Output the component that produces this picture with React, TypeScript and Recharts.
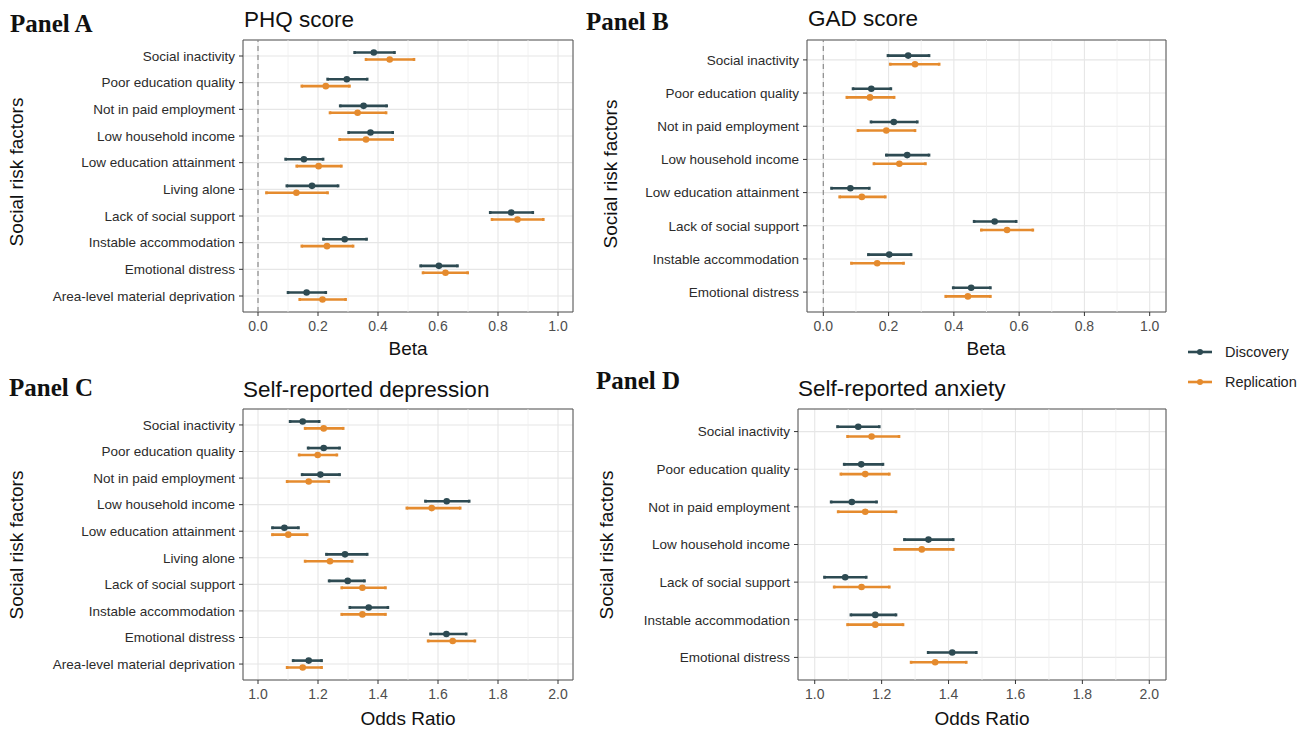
import React from 'react';
import {
  ScatterChart,
  Scatter,
  XAxis,
  YAxis,
  CartesianGrid,
  ErrorBar,
  ReferenceLine,
  ReferenceArea,
} from 'recharts';

const DISCOVERY_COLOR = '#2d4a52';
const REPLICATION_COLOR = '#e58b2e';
const FONT = '"Liberation Sans", Arial, sans-serif';

// each row: [estimate, lower CI, upper CI]
const phqFactors = [
  'Social inactivity',
  'Poor education quality',
  'Not in paid employment',
  'Low household income',
  'Low education attainment',
  'Living alone',
  'Lack of social support',
  'Instable accommodation',
  'Emotional distress',
  'Area-level material deprivation',
];
const phqDiscovery = [
  [0.386, 0.322, 0.455],
  [0.296, 0.232, 0.364],
  [0.352, 0.274, 0.429],
  [0.375, 0.302, 0.449],
  [0.153, 0.092, 0.217],
  [0.18, 0.096, 0.267],
  [0.844, 0.774, 0.916],
  [0.289, 0.218, 0.362],
  [0.603, 0.542, 0.665],
  [0.162, 0.1, 0.226],
];
const phqReplication = [
  [0.439, 0.36, 0.52],
  [0.226, 0.146, 0.305],
  [0.332, 0.24, 0.427],
  [0.36, 0.272, 0.449],
  [0.202, 0.129, 0.278],
  [0.128, 0.028, 0.232],
  [0.865, 0.78, 0.951],
  [0.23, 0.146, 0.317],
  [0.625, 0.55, 0.699],
  [0.215, 0.139, 0.292],
];

const gadFactors = [
  'Social inactivity',
  'Poor education quality',
  'Not in paid employment',
  'Low household income',
  'Low education attainment',
  'Lack of social support',
  'Instable accommodation',
  'Emotional distress',
];
const gadDiscovery = [
  [0.26, 0.198, 0.324],
  [0.147, 0.091, 0.207],
  [0.216, 0.146, 0.288],
  [0.257, 0.193, 0.324],
  [0.083, 0.025, 0.141],
  [0.525, 0.462, 0.591],
  [0.202, 0.138, 0.269],
  [0.453, 0.398, 0.512],
];
const gadReplication = [
  [0.281, 0.205, 0.355],
  [0.143, 0.072, 0.217],
  [0.193, 0.106, 0.281],
  [0.233, 0.155, 0.313],
  [0.118, 0.05, 0.19],
  [0.563, 0.484, 0.642],
  [0.165, 0.086, 0.246],
  [0.443, 0.375, 0.512],
];

const depFactors = phqFactors;
const depDiscovery = [
  [1.149, 1.107, 1.204],
  [1.219, 1.167, 1.272],
  [1.208, 1.147, 1.272],
  [1.629, 1.558, 1.704],
  [1.088, 1.048, 1.135],
  [1.29, 1.228, 1.364],
  [1.299, 1.237, 1.355],
  [1.369, 1.306, 1.433],
  [1.628, 1.575, 1.694],
  [1.169, 1.117, 1.212],
];
const depReplication = [
  [1.219, 1.157, 1.284],
  [1.199, 1.137, 1.263],
  [1.169, 1.097, 1.236],
  [1.579, 1.496, 1.674],
  [1.101, 1.048, 1.164],
  [1.24, 1.157, 1.314],
  [1.348, 1.279, 1.425],
  [1.348, 1.279, 1.425],
  [1.649, 1.567, 1.723],
  [1.149, 1.097, 1.212],
];

const anxFactors = [
  'Social inactivity',
  'Poor education quality',
  'Not in paid employment',
  'Low household income',
  'Lack of social support',
  'Instable accommodation',
  'Emotional distress',
];
const anxDiscovery = [
  [1.13, 1.068, 1.193],
  [1.139, 1.088, 1.204],
  [1.111, 1.049, 1.185],
  [1.34, 1.268, 1.414],
  [1.091, 1.029, 1.154],
  [1.181, 1.108, 1.243],
  [1.411, 1.339, 1.483],
];
const anxReplication = [
  [1.17, 1.098, 1.252],
  [1.151, 1.078, 1.223],
  [1.151, 1.07, 1.243],
  [1.32, 1.239, 1.414],
  [1.14, 1.058, 1.223],
  [1.181, 1.098, 1.264],
  [1.36, 1.288, 1.453],
];

const betaTicks = [0, 0.2, 0.4, 0.6, 0.8, 1.0];
const betaMinor = [0.1, 0.3, 0.5, 0.7, 0.9];
const orTicks = [1.0, 1.2, 1.4, 1.6, 1.8, 2.0];
const orMinor = [1.1, 1.3, 1.5, 1.7, 1.9];

const DODGE = 0.13;

function toRows(values: number[][], shift: number) {
  return values.map(([est, lo, hi], i) => ({
    x: est,
    y: i + shift,
    err: [est - lo, hi - est],
  }));
}

const dot = (color: string) => (props: any) =>
  <circle cx={props.cx} cy={props.cy} r={3.3} fill={color} />;

interface PanelProps {
  factors: string[];
  discovery: number[][];
  replication: number[][];
  domain: [number, number];
  ticks: number[];
  minor: number[];
  zeroLine?: boolean;
  left: number;
  top: number;
  right: number;
  bottom: number;
}

const Y_AXIS_W = 240;
const M_TOP = 5;
const M_RIGHT = 5;
const X_AXIS_H = 30;

const ForestPanel: React.FC<PanelProps> = ({
  factors, discovery, replication, domain, ticks, minor, zeroLine,
  left, top, right, bottom,
}) => {
  const n = factors.length;
  const yDomain: [number, number] = [-0.6, n - 0.4];
  const width = Y_AXIS_W + (right - left) + M_RIGHT;
  const height = M_TOP + (bottom - top) + X_AXIS_H;
  return (
    <div style={{ position: 'absolute', left: left - Y_AXIS_W, top: top - M_TOP }}>
      <ScatterChart
        width={width}
        height={height}
        margin={{ top: M_TOP, right: M_RIGHT, left: 0, bottom: 0 }}
        style={{ fontFamily: FONT }}
      >
        <CartesianGrid stroke="#e6e6e6" strokeWidth={1.1} />
        {minor.map(v => (
          <ReferenceLine key={v} x={v} stroke="#efefef" strokeWidth={0.8} />
        ))}
        {zeroLine && (
          <ReferenceLine x={0} stroke="#8c8c8c" strokeWidth={1.2} strokeDasharray="5 4" />
        )}
        <XAxis
          type="number"
          dataKey="x"
          domain={domain}
          ticks={ticks}
          allowDataOverflow
          axisLine={false}
          tickSize={4}
          tickMargin={5}
          height={X_AXIS_H}
          tickLine={{ stroke: '#333' }}
          tick={{ fill: '#4d4d4d', fontSize: 14 }}
          tickFormatter={(v: number) => v.toFixed(1)}
          interval={0}
        />
        <YAxis
          type="number"
          dataKey="y"
          domain={yDomain}
          ticks={factors.map((_, i) => i)}
          allowDataOverflow
          reversed
          axisLine={false}
          width={Y_AXIS_W}
          tickSize={4}
          tickMargin={4}
          tickLine={{ stroke: '#333' }}
          tick={{ fill: '#2b2b2b', fontSize: 13.5 }}
          tickFormatter={(v: number) => factors[v] ?? ''}
          interval={0}
        />
        <ReferenceArea
          x1={domain[0]}
          x2={domain[1]}
          y1={yDomain[0]}
          y2={yDomain[1]}
          fill="none"
          stroke="#555"
          strokeWidth={1}
        />
        <Scatter
          data={toRows(discovery, -DODGE)}
          fill={DISCOVERY_COLOR}
          shape={dot(DISCOVERY_COLOR)}
          isAnimationActive={false}
        >
          <ErrorBar dataKey="err" direction="x" width={1.5} stroke={DISCOVERY_COLOR} strokeWidth={2.6} />
        </Scatter>
        <Scatter
          data={toRows(replication, DODGE)}
          fill={REPLICATION_COLOR}
          shape={dot(REPLICATION_COLOR)}
          isAnimationActive={false}
        >
          <ErrorBar dataKey="err" direction="x" width={1.5} stroke={REPLICATION_COLOR} strokeWidth={2.6} />
        </Scatter>
      </ScatterChart>
    </div>
  );
};

const panelLabel = { fontFamily: '"Liberation Serif", "Times New Roman", serif', fontWeight: 700, fontSize: 25, fill: '#111' };
const titleStyle = { fontFamily: FONT, fontSize: 22.5, fill: '#111' };
const axisTitle = { fontFamily: FONT, fontSize: 19, fill: '#111' };

export default function App() {
  return (
    <div style={{ position: 'absolute', left: 0, top: 0, width: 1310, height: 729, background: '#fff' }}>
      <ForestPanel
        factors={phqFactors} discovery={phqDiscovery} replication={phqReplication}
        domain={[-0.05, 1.05]} ticks={betaTicks} minor={betaMinor} zeroLine
        left={243} top={40} right={573} bottom={312}
      />
      <ForestPanel
        factors={gadFactors} discovery={gadDiscovery} replication={gadReplication}
        domain={[-0.05, 1.05]} ticks={betaTicks} minor={betaMinor} zeroLine
        left={807} top={40} right={1166} bottom={312}
      />
      <ForestPanel
        factors={depFactors} discovery={depDiscovery} replication={depReplication}
        domain={[0.95, 2.05]} ticks={orTicks} minor={orMinor}
        left={243} top={409} right={573} bottom={680}
      />
      <ForestPanel
        factors={anxFactors} discovery={anxDiscovery} replication={anxReplication}
        domain={[0.95, 2.05]} ticks={orTicks} minor={orMinor}
        left={798} top={409} right={1166} bottom={680}
      />
      <svg width={1310} height={729} style={{ position: 'absolute', left: 0, top: 0, pointerEvents: 'none' }}>
        <text x={10} y={32} style={panelLabel}>Panel A</text>
        <text x={586} y={30} style={panelLabel}>Panel B</text>
        <text x={9} y={396} style={panelLabel}>Panel C</text>
        <text x={596} y={389} style={panelLabel}>Panel D</text>

        <text x={244} y={27} style={titleStyle}>PHQ score</text>
        <text x={808} y={26} style={titleStyle}>GAD score</text>
        <text x={243} y={397} style={titleStyle}>Self-reported depression</text>
        <text x={798} y={396} style={titleStyle}>Self-reported anxiety</text>

        <text x={408} y={355} textAnchor="middle" style={axisTitle}>Beta</text>
        <text x={986} y={355} textAnchor="middle" style={axisTitle}>Beta</text>
        <text x={408} y={725} textAnchor="middle" style={axisTitle}>Odds Ratio</text>
        <text x={982} y={725} textAnchor="middle" style={axisTitle}>Odds Ratio</text>

        <text transform="translate(23,172) rotate(-90)" textAnchor="middle" style={axisTitle}>Social risk factors</text>
        <text transform="translate(617,174) rotate(-90)" textAnchor="middle" style={axisTitle}>Social risk factors</text>
        <text transform="translate(23,545) rotate(-90)" textAnchor="middle" style={axisTitle}>Social risk factors</text>
        <text transform="translate(613,545) rotate(-90)" textAnchor="middle" style={axisTitle}>Social risk factors</text>

        <line x1={1188} x2={1212} y1={352} y2={352} stroke={DISCOVERY_COLOR} strokeWidth={2.6} />
        <circle cx={1200} cy={352} r={3} fill={DISCOVERY_COLOR} />
        <text x={1225} y={357} style={{ fontFamily: FONT, fontSize: 14.5, fill: '#222' }}>Discovery</text>
        <line x1={1188} x2={1212} y1={382} y2={382} stroke={REPLICATION_COLOR} strokeWidth={2.6} />
        <circle cx={1200} cy={382} r={3} fill={REPLICATION_COLOR} />
        <text x={1225} y={387} style={{ fontFamily: FONT, fontSize: 14.5, fill: '#222' }}>Replication</text>
      </svg>
    </div>
  );
}
